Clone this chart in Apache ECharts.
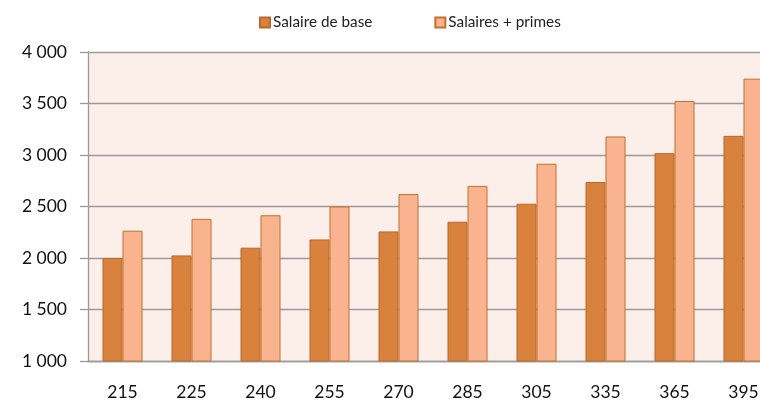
<!DOCTYPE html>
<html>
<head>
<meta charset="utf-8">
<script src="https://cdn.jsdelivr.net/npm/echarts@6/dist/echarts.min.js"></script>
<style>
  html, body { margin: 0; padding: 0; background: #fff; }
  #chart { width: 760px; height: 404px; }
</style>
</head>
<body>
<div id="chart"></div>
<script>
// categories and values
const categories = ["215", "225", "240", "255", "270", "285", "305", "335", "365", "395"];
const salaireBase = [2000, 2025, 2100, 2180, 2258, 2352, 2527, 2738, 3018, 3186];
const salairesPrimes = [2265, 2380, 2415, 2500, 2620, 2700, 2915, 3180, 3524, 3741];
const yTicks = [1000, 1500, 2000, 2500, 3000, 3500, 4000];

const FONT = "Lato";
const fmt = (v) => String(v).replace(/\B(?=(\d{3})+(?!\d))/g, " ");

const chart = echarts.init(document.getElementById("chart"));

chart.setOption({
  animation: false,
  textStyle: { fontFamily: FONT },
  legend: {
    top: 10,
    left: 254,
    itemWidth: 10,
    itemHeight: 10,
    itemGap: 62,
    icon: "rect",
    textStyle: { fontFamily: FONT, fontSize: 15.3, color: "#222", padding: [0, 0, 0, -2] },
    data: ["Salaire de base", "Salaires + primes"]
  },
  grid: {
    left: 88,
    top: 52,
    bottom: 43,
    right: -18,
    outerBoundsMode: "none",
    show: true,
    backgroundColor: "#FCEEE9",
    borderWidth: 0
  },
  xAxis: {
    type: "category",
    data: categories,
    axisLine: { lineStyle: { color: "#9a9a9a", width: 1.3 } },
    axisTick: { alignWithLabel: false, length: 6, lineStyle: { color: "#9a9a9a", width: 1.3 } },
    axisLabel: { fontFamily: FONT, fontSize: 17.5, color: "#111", margin: 22 }
  },
  yAxis: {
    type: "value",
    min: yTicks[0],
    max: yTicks[yTicks.length - 1],
    interval: 500,
    axisLine: { show: true, lineStyle: { color: "#9a9a9a", width: 1.3 } },
    axisTick: { show: true, length: 8, lineStyle: { color: "#9a9a9a", width: 1.3 } },
    splitLine: { lineStyle: { color: "#9a9a9a", width: 1.3 } },
    axisLabel: { fontFamily: FONT, fontSize: 17.5, color: "#111", margin: 21, formatter: fmt }
  },
  series: [
    {
      name: "Salaire de base",
      type: "bar",
      data: salaireBase,
      barWidth: 20,
      barGap: "0%",
      itemStyle: { color: "#D9823D", borderColor: "#B8692C", borderWidth: 1 }
    },
    {
      name: "Salaires + primes",
      type: "bar",
      data: salairesPrimes,
      barWidth: 20,
      itemStyle: { color: "#F9B48F", borderColor: "#C0712F", borderWidth: 1 }
    }
  ]
});
</script>
</body>
</html>
